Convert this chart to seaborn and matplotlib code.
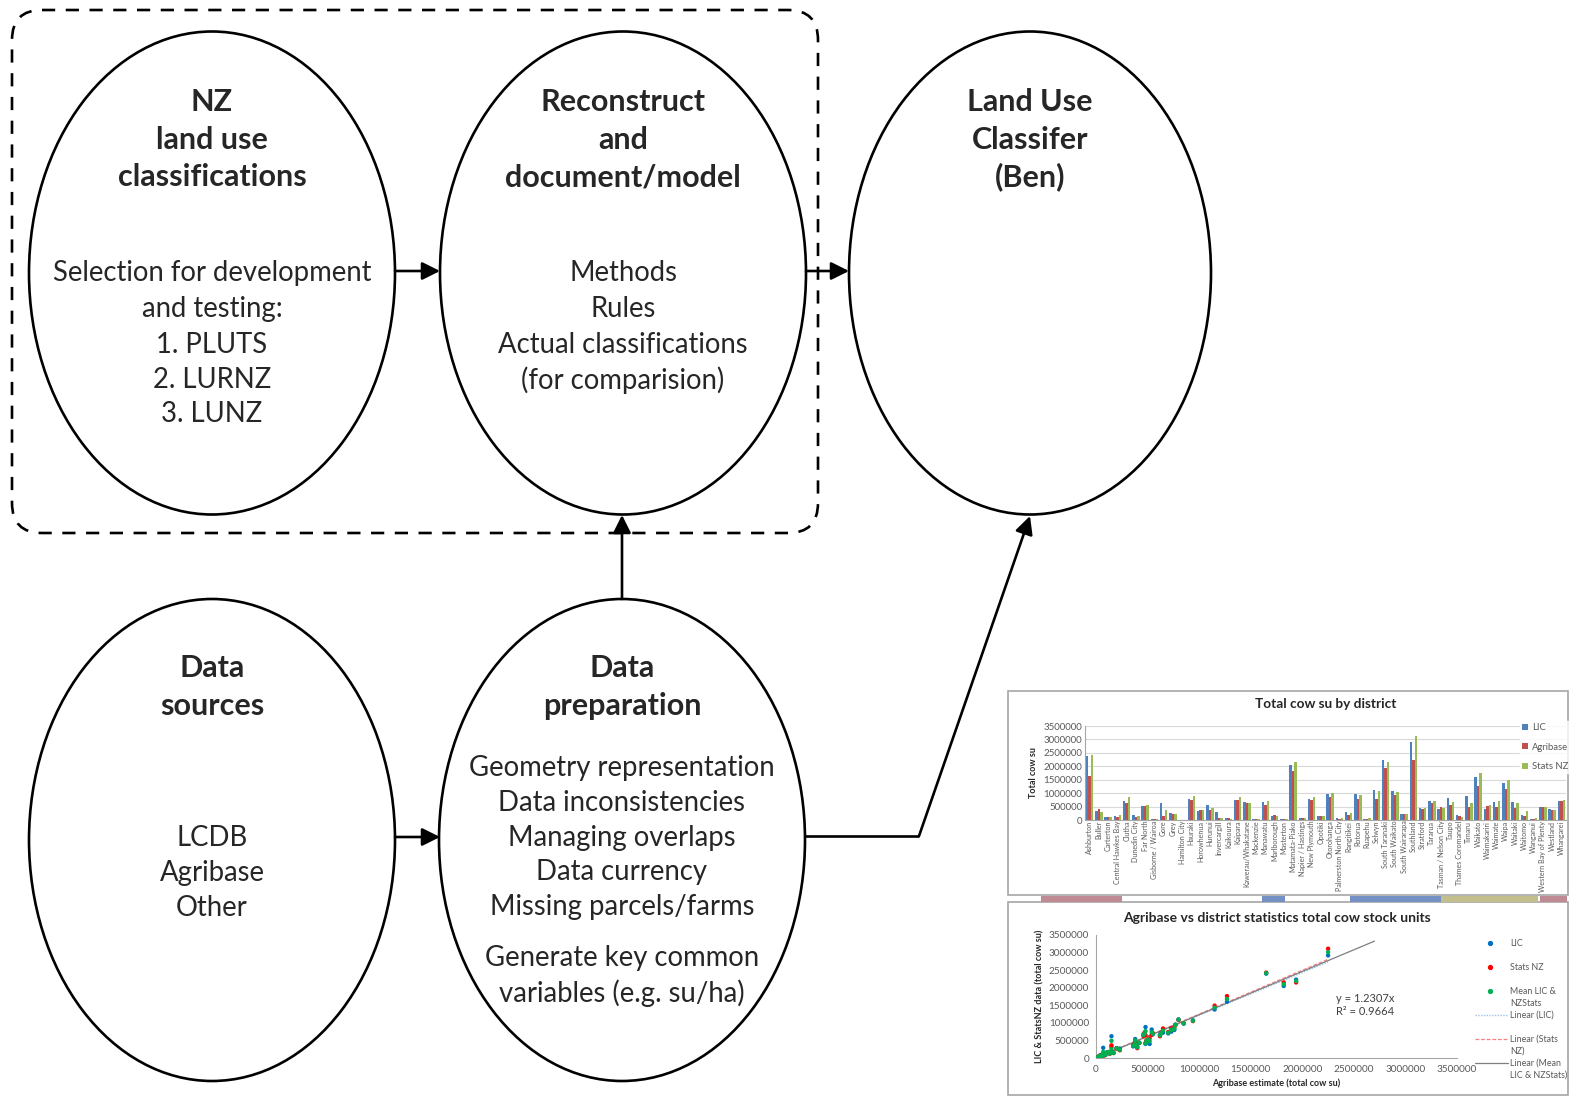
import matplotlib
matplotlib.use("Agg")
import matplotlib.pyplot as plt
from matplotlib.patches import Ellipse, FancyBboxPatch, Rectangle
import seaborn as sns
import numpy as np
import pandas as pd

# district totals (cow stock units)
districts = ["Ashburton", "Buller", "Carterton", "Central Hawkes Bay", "Clutha",
             "Dunedin City", "Far North", "Gisborne / Wairoa", "Gore", "Grey",
             "Hamilton City", "Hauraki", "Horowhenua", "Hurunui", "Invercargill",
             "Kaikoura", "Kaipara", "Kawerau/Whakatane", "Mackenzie", "Manawatu",
             "Marlborough", "Masterton", "Matamata-Piako", "Napier / Hastings",
             "New Plymouth", "Opotiki", "Otorohanga", "Palmerston North City",
             "Rangitikei", "Rotorua", "Ruapehu", "Selwyn", "South Taranaki",
             "South Waikato", "South Wairarapa", "Southland", "Stratford", "Tararua",
             "Tasman / Nelson City", "Taupo", "Thames Coromandel", "Timaru", "Waikato",
             "Waimakariri", "Waimate", "Waipa", "Waitaki", "Waitomo", "Wanganui",
             "Western Bay of Plenty", "Westland", "Whangarei"]
lic = [2400000, 330000, 130000, 160000, 720000, 170000, 510000, 20000, 620000, 270000,
       10000, 800000, 330000, 540000, 290000, 60000, 750000, 670000, 50000, 670000,
       140000, 30000, 2050000, 80000, 800000, 160000, 980000, 90000, 280000, 950000,
       50000, 1100000, 2230000, 1070000, 240000, 2920000, 430000, 690000, 400000, 810000,
       170000, 880000, 1600000, 400000, 670000, 1380000, 680000, 180000, 20000, 490000,
       410000, 700000]
agribase = [1650000, 400000, 130000, 130000, 650000, 110000, 510000, 20000, 150000, 230000,
            10000, 760000, 360000, 380000, 70000, 60000, 730000, 620000, 30000, 550000,
            170000, 40000, 1820000, 90000, 750000, 160000, 850000, 50000, 200000, 770000,
            40000, 800000, 1940000, 940000, 230000, 2250000, 420000, 630000, 480000, 540000,
            140000, 480000, 1270000, 520000, 470000, 1150000, 460000, 150000, 50000, 490000,
            380000, 700000]
stats_nz = [2430000, 280000, 130000, 170000, 840000, 160000, 550000, 30000, 360000, 220000,
            10000, 880000, 370000, 460000, 60000, 50000, 840000, 620000, 50000, 710000,
            150000, 50000, 2150000, 90000, 850000, 160000, 990000, 60000, 270000, 940000,
            80000, 1080000, 2150000, 1050000, 230000, 3110000, 430000, 720000, 430000, 660000,
            130000, 650000, 1760000, 560000, 720000, 1490000, 620000, 320000, 70000, 500000,
            380000, 740000]
sources = ["LIC", "Agribase", "Stats NZ"]
axis_ticks = [0, 500000, 1000000, 1500000, 2000000, 2500000, 3000000, 3500000]
mean_trend_end = 2700000
eq_text = "y = 1.2307x\nR² = 0.9664"

W, H = 1581, 1097
sns.set_style("white")
plt.rcParams['font.family'] = ['Lato', 'DejaVu Sans']

fig = plt.figure(figsize=(W / 100, H / 100), dpi=100)
bg = fig.add_axes([0, 0, 1, 1])
bg.set_xlim(0, W)
bg.set_ylim(H, 0)
bg.axis("off")

LW = 1.9
# dashed group box round the first two steps
bg.add_patch(FancyBboxPatch((12, 10), 806, 523, boxstyle="round,pad=0,rounding_size=30",
                            fill=False, ec="black", lw=LW, ls=(0, (5, 4))))

# ellipses: centre x, centre y, width, height
nodes = [(212, 273, 366, 483), (623, 273, 366, 483), (1030, 273, 362, 483),
         (212, 840, 366, 482), (622, 840, 366, 482)]
for cx, cy, w, h in nodes:
    bg.add_patch(Ellipse((cx, cy), w, h, fill=False, ec="black", lw=LW))

title_kw = dict(ha="center", va="center", fontsize=22, fontweight="bold")
body_kw = dict(ha="center", va="center", fontsize=19.8)

def lines(x, ys, texts, kw):
    for y, t in zip(ys, texts):
        bg.text(x, y, t, **kw)

lines(212, [102, 140, 177], ["NZ", "land use", "classifications"], title_kw)
lines(212, [273, 309, 345, 380, 414],
      ["Selection for development", "and testing:", "1. PLUTS", "2. LURNZ", "3. LUNZ"], body_kw)
lines(623, [102, 140, 177], ["Reconstruct", "and", "document/model"], title_kw)
lines(623, [273, 309, 345, 380],
      ["Methods", "Rules", "Actual classifications", "(for comparision)"], body_kw)
lines(1030, [102, 140, 177], ["Land Use", "Classifer", "(Ben)"], title_kw)
lines(212, [668, 706], ["Data", "sources"], title_kw)
lines(212, [838, 873, 908], ["LCDB", "Agribase", "Other"], body_kw)
lines(622, [668, 706], ["Data", "preparation"], title_kw)
lines(622, [768, 803, 838, 872, 907, 958, 993],
      ["Geometry representation", "Data inconsistencies", "Managing overlaps",
       "Data currency", "Missing parcels/farms", "Generate key common",
       "variables (e.g. su/ha)"], body_kw)

arrow_kw = dict(arrowstyle="-|>", color="black", lw=LW, mutation_scale=27,
                shrinkA=0, shrinkB=0)
def arrow(x0, y0, x1, y1):
    bg.annotate("", xy=(x1, y1), xytext=(x0, y0), arrowprops=arrow_kw)

arrow(395, 271, 440, 271)
arrow(806, 271, 849, 271)
arrow(622, 599, 622, 515)
arrow(395, 837, 440, 837)
bg.plot([805, 919], [836, 836], color="black", lw=LW, solid_capstyle="butt")
arrow(919, 836, 1030, 516)

# frames of the two pasted charts and the strip between them
bg.add_patch(Rectangle((1008, 691), 560, 204, fill=False, ec="#a6a6a6", lw=1.2))
bg.add_patch(Rectangle((1008, 902), 560, 193, fill=False, ec="#a6a6a6", lw=1.2))
for x0, x1, c in [(1041, 1122, "#c08a95"), (1262, 1285, "#7590c4"), (1350, 1441, "#7590c4"),
                  (1441, 1538, "#c2bf8c"), (1540, 1567, "#c08a95")]:
    bg.add_patch(Rectangle((x0, 896), x1 - x0, 6, fc=c, ec="none"))

def fig_rect(x0, x1, y0, y1):
    return [x0 / W, 1 - y1 / H, (x1 - x0) / W, (y1 - y0) / H]

grey = "#595959"
bar_colors = ["#4f81bd", "#c0504d", "#9bbb59"]

# bar chart
axb = fig.add_axes(fig_rect(1085, 1566, 726, 820))
df = pd.DataFrame({"district": districts, "LIC": lic, "Agribase": agribase, "Stats NZ": stats_nz})
long_df = df.melt(id_vars="district", value_vars=sources, var_name="source", value_name="su")
sns.barplot(data=long_df, x="district", y="su", hue="source", palette=bar_colors,
            saturation=1, width=0.8, gap=0, linewidth=0, edgecolor="none", ax=axb, legend=True)
axb.set_ylim(0, 3500000)
axb.set_yticks(axis_ticks)
axb.set_yticklabels([str(t) for t in axis_ticks], fontsize=7, color=grey)
axb.tick_params(axis="x", labelsize=5.1, labelcolor=grey, rotation=90, length=0, pad=0.5)
axb.tick_params(axis="y", length=0, pad=2)
axb.yaxis.grid(True, color="#d9d9d9", lw=0.8)
axb.set_axisbelow(True)
for s in ["top", "right"]:
    axb.spines[s].set_visible(False)
for s in ["left", "bottom"]:
    axb.spines[s].set_color("#a6a6a6")
    axb.spines[s].set_linewidth(0.8)
axb.set_xlabel("")
axb.set_ylabel("Total cow su", fontsize=6.5, fontweight="bold", labelpad=4)
axb.set_title("Total cow su by district", fontsize=9.8, fontweight="bold", pad=13)
leg = axb.legend(loc="upper left", bbox_to_anchor=(0.905, 1.05), frameon=True,
                 fontsize=6.8, handlelength=0.6, handleheight=0.6, labelspacing=1.1,
                 borderpad=0.2, handletextpad=0.4, borderaxespad=0)
leg.get_frame().set_facecolor("white")
leg.get_frame().set_edgecolor("white")
for t in leg.get_texts():
    t.set_color(grey)

# scatter with trend lines
axs = fig.add_axes(fig_rect(1096, 1457, 935, 1058))
sc_colors = ["#0070c0", "#ff0000", "#00b050"]
mean_vals = [(a + b) / 2 for a, b in zip(lic, stats_nz)]
sc_df = pd.DataFrame({
    "agribase": agribase * 3,
    "value": lic + stats_nz + mean_vals,
    "series": ["LIC"] * len(lic) + ["Stats NZ"] * len(stats_nz) + ["Mean"] * len(mean_vals)})
sns.scatterplot(data=sc_df, x="agribase", y="value", hue="series", palette=sc_colors,
                s=10, edgecolor="none", legend=False, ax=axs, zorder=3)

xa = np.array(agribase, dtype=float)
def slope(y):
    y = np.array(y, dtype=float)
    return (xa * y).sum() / (xa * xa).sum()

trend_styles = [dict(color="#9dc3e6", lw=1, ls=(0, (1, 1))),
                dict(color="#ff7c80", lw=0.9, ls=(0, (3, 1.5))),
                dict(color="#7f7f7f", lw=0.9, ls="-")]
xmax = xa.max()
axs.plot([0, xmax], [0, slope(lic) * xmax], zorder=2, **trend_styles[0])
axs.plot([0, xmax], [0, slope(stats_nz) * xmax], zorder=2, **trend_styles[1])
axs.plot([0, mean_trend_end], [0, slope(mean_vals) * mean_trend_end], zorder=2, **trend_styles[2])

axs.set_xlim(0, 3500000)
axs.set_ylim(0, 3500000)
axs.set_xticks(axis_ticks)
axs.set_yticks(axis_ticks)
axs.set_xticklabels([str(t) for t in axis_ticks], fontsize=7.2, color=grey)
axs.set_yticklabels([str(t) for t in axis_ticks], fontsize=7.2, color=grey)
axs.tick_params(axis="x", direction="out", length=3, width=0.6, color="#a6a6a6", pad=2)
axs.tick_params(axis="y", direction="out", length=3, width=0.6, color="#a6a6a6", pad=2)
for s in ["top", "right"]:
    axs.spines[s].set_visible(False)
for s in ["left", "bottom"]:
    axs.spines[s].set_color("#a6a6a6")
    axs.spines[s].set_linewidth(0.8)
axs.set_xlabel("Agribase estimate (total cow su)", fontsize=6.5, fontweight="bold", labelpad=3)
axs.set_ylabel("LIC & StatsNZ data (total cow su)", fontsize=6.5, fontweight="bold", labelpad=3)
axs.set_title("Agribase vs district statistics total cow stock units",
              fontsize=10, fontweight="bold", pad=9)
axs.text(0.665, 0.43, eq_text, transform=axs.transAxes, fontsize=8, color="#404040",
         va="center", ha="left", linespacing=1.3)

# Excel-like legend, one entry per row, placed in figure pixels
leg_rows = [(943, ["LIC"]), (967, ["Stats NZ"]), (991, ["Mean LIC &", "NZStats"]),
            (1015, ["Linear (LIC)"]), (1039, ["Linear (Stats", "NZ)"]),
            (1063, ["Linear (Mean", "LIC & NZStats)"])]
for i, (y, texts) in enumerate(leg_rows):
    if i < 3:
        bg.plot([1490], [y], ls="none", marker="o", ms=2.8, color=sc_colors[i])
    else:
        bg.plot([1475, 1508], [y, y], **trend_styles[i - 3])
    for k, t in enumerate(texts):
        bg.text(1510, y + 12 * k, t, fontsize=6.4, color=grey, va="center", ha="left")

fig.savefig("out.png", dpi=100)
